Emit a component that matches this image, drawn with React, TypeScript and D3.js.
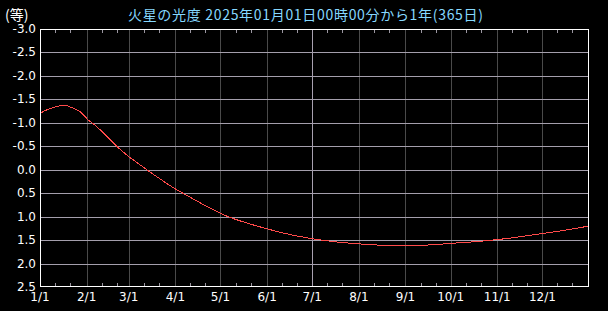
import React from "react";
import * as d3 from "d3";

const titleText = "火星の光度  2025年01月01日00時00分から1年(365日)";
const unitLabel = "(等)";
const yTicks = [-3.0, -2.5, -2.0, -1.5, -1.0, -0.5, 0.0, 0.5, 1.0, 1.5, 2.0, 2.5];
const monthLabels = ["1/1", "2/1", "3/1", "4/1", "5/1", "6/1", "7/1", "8/1", "9/1", "10/1", "11/1", "12/1"];
const minorTickDays = [11, 21];

// days since 2025-01-01
const dayOffsets = [0, 3, 6.5, 10, 13, 15.5, 18, 20, 23, 26.5, 30, 32, 35, 40, 45, 51, 59, 65, 71, 80, 90, 95, 105, 120, 125, 138, 151, 166, 181, 196, 212, 228, 243, 258, 273, 289, 304, 319, 334, 350, 365];
const magnitudes = [-1.2, -1.255, -1.3, -1.335, -1.362, -1.376, -1.368, -1.34, -1.297, -1.24, -1.13, -1.06, -0.99, -0.85, -0.69, -0.5, -0.28, -0.14, 0.0, 0.2, 0.41, 0.5, 0.68, 0.93, 1.0, 1.14, 1.26, 1.38, 1.47, 1.535, 1.58, 1.61, 1.615, 1.605, 1.57, 1.535, 1.49, 1.43, 1.36, 1.285, 1.2];

const W = 608;
const H = 311;
const L = 40;
const R = 589;
const T = 29;
const B = 287;

export default function App() {
  const start = new Date(Date.UTC(2025, 0, 1));
  const end = new Date(Date.UTC(2026, 0, 1));
  const x = d3.scaleUtc().domain([start, end]).range([L, R]);
  const y = d3.scaleLinear().domain([-3, 2.5]).range([T, B]);
  const months = d3.range(12).map((m) => new Date(Date.UTC(2025, m, 1)));
  const minor = d3.range(12).flatMap((m) => minorTickDays.map((d) => new Date(Date.UTC(2025, m, d))));
  const pts: [number, number][] = dayOffsets.map((d, i) => [x(start.getTime() + d * 86400000), y(magnitudes[i])]);
  const line = d3.line().curve(d3.curveMonotoneX)(pts) || "";
  const px = (v: number) => Math.round(v) + 0.5;

  return (
    <div style={{ position: "fixed", left: 0, top: 0, width: W, height: H, background: "#000" }}>
      <svg width={W} height={H} style={{ display: "block", background: "#000" }} fontFamily="'DejaVu Sans', sans-serif">
        <rect x={0} y={0} width={W} height={H} fill="#000" />
        <text x={5} y={20} fill="#ffffff" fontSize={14} fontFamily="'Noto Sans CJK JP', sans-serif">{unitLabel}</text>
        <text x={128} y={20} fill="#86d8ff" fontSize={14} fontFamily="'Noto Sans CJK JP', sans-serif" textLength={355} lengthAdjust="spacing">{titleText}</text>
        {months.slice(1).map((m, i) => (
          <line key={"v" + i} x1={px(x(m))} x2={px(x(m))} y1={T} y2={B} stroke={i + 1 === 6 ? "#a8a0b0" : "#4a4a4a"} strokeWidth={1} shapeRendering="crispEdges" />
        ))}
        {yTicks.slice(1, -1).map((v, i) => (
          <line key={"h" + i} x1={L} x2={R} y1={px(y(v))} y2={px(y(v))} stroke="#a49eac" strokeWidth={1} shapeRendering="crispEdges" />
        ))}
        {minor.map((d, i) => (
          <g key={"t" + i}>
            <line x1={px(x(d))} x2={px(x(d))} y1={T} y2={T + 4} stroke="#9a96a0" shapeRendering="crispEdges" />
            <line x1={px(x(d))} x2={px(x(d))} y1={B - 4} y2={B} stroke="#9a96a0" shapeRendering="crispEdges" />
          </g>
        ))}
        <path d={line} fill="none" stroke="#ff4a4a" strokeWidth={1} shapeRendering="crispEdges" />
        <rect x={L + 0.5} y={T + 0.5} width={R - L - 1} height={B - T - 1} fill="none" stroke="#ffffff" strokeWidth={1} shapeRendering="crispEdges" />
        {yTicks.map((v, i) => (
          <text key={"yl" + i} x={36} y={y(v) + 4} fill="#ffffff" fontSize={12} textAnchor="end">{v.toFixed(1)}</text>
        ))}
        {months.map((m, i) => (
          <text key={"xl" + i} x={x(m)} y={301} fill="#ffffff" fontSize={12} textAnchor="middle">{monthLabels[i]}</text>
        ))}
      </svg>
    </div>
  );
}
